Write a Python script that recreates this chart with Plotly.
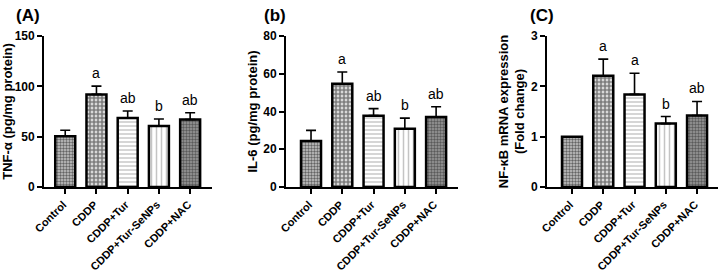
import plotly.graph_objects as go

groups = ["Control", "CDDP", "CDDP+Tur", "CDDP+Tur-SeNPs", "CDDP+NAC"]

tnf_mean = [50.4, 92.0, 68.5, 60.5, 67.0]
tnf_err = [6.0, 8.2, 7.0, 7.0, 6.7]
tnf_letters = ["", "a", "ab", "b", "ab"]

il6_mean = [24.4, 54.7, 37.8, 30.9, 37.1]
il6_err = [5.6, 6.2, 3.7, 5.6, 5.4]
il6_letters = ["", "a", "ab", "b", "ab"]

nfkb_mean = [1.0, 2.21, 1.84, 1.26, 1.42]
nfkb_err = [0.0, 0.33, 0.42, 0.14, 0.28]
nfkb_letters = ["", "a", "a", "b", "ab"]

panels = [
    dict(mean=tnf_mean, err=tnf_err, letters=tnf_letters, ymax=150, dtick=50,
         title="TNF-α (pg/mg protein)", label="(A)"),
    dict(mean=il6_mean, err=il6_err, letters=il6_letters, ymax=80, dtick=20,
         title="IL-6 (pg/mg protein)", label="(b)"),
    dict(mean=nfkb_mean, err=nfkb_err, letters=nfkb_letters, ymax=3, dtick=1,
         title="NF-κB mRNA expression<br>(Fold change)", label="(C)"),
]

patterns = [
    dict(shape=".", fgcolor="#000000", bgcolor="#c8c8c8", size=3, solidity=0.5),
    dict(shape=".", fgcolor="#000000", bgcolor="#ffffff", size=4, solidity=0.75),
    dict(shape="-", fgcolor="#8a8a8a", bgcolor="#ffffff", size=4, solidity=0.35),
    dict(shape="|", fgcolor="#8a8a8a", bgcolor="#ffffff", size=5, solidity=0.3),
    dict(shape=".", fgcolor="#1a1a1a", bgcolor="#9a9a9a", size=3, solidity=0.5),
]

W, H = 720, 271
xdoms = [(44 / W, 212 / W), (286 / W, 458 / W), (547 / W, 718 / W)]
xranges = [(-0.68, 4.7), (-0.8, 4.7), (-0.8, 4.67)]
ydom = ((H - 187) / H, (H - 36) / H)
label_x = [28, 275, 542]

FONT = "Arial, Liberation Sans, sans-serif"

fig = go.Figure()
annotations = []
for i, p in enumerate(panels):
    ax = "" if i == 0 else str(i + 1)
    for j, g in enumerate(groups):
        fig.add_trace(go.Bar(
            x=[g], y=[p["mean"][j]],
            xaxis="x" + ax, yaxis="y" + ax,
            width=0.64,
            marker=dict(color="white", pattern=patterns[j],
                        line=dict(color="black", width=2.5)),
            error_y=dict(type="data", symmetric=False, array=[p["err"][j]],
                         arrayminus=[0], color="black", thickness=1.6, width=5,
                         visible=p["err"][j] > 0),
            showlegend=False, hoverinfo="skip",
        ))
        if p["letters"][j]:
            annotations.append(dict(
                x=g, y=p["mean"][j] + p["err"][j], xref="x" + ax, yref="y" + ax,
                text=p["letters"][j], showarrow=False, yanchor="bottom", yshift=3,
                font=dict(family=FONT, size=14, color="black"),
            ))
    annotations.append(dict(
        x=label_x[i] / W, y=1 - 16 / H, xref="paper", yref="paper",
        text="<b>" + p["label"] + "</b>", showarrow=False,
        xanchor="center", yanchor="middle",
        font=dict(family=FONT, size=17, color="black"),
    ))
    xa = dict(domain=xdoms[i], anchor="y" + ax, range=xranges[i], automargin=False,
              showline=True, linecolor="black", linewidth=1.8,
              ticks="outside", ticklen=5, tickwidth=1.5, tickcolor="black",
              tickangle=-45, showgrid=False,
              ticklabelshift=-2, ticklabelstandoff=0,
              tickfont=dict(family=FONT, size=11, color="black", weight="bold"))
    ya = dict(domain=ydom, anchor="x" + ax, range=[0, p["ymax"]], dtick=p["dtick"],
              automargin=False,
              showline=True, linecolor="black", linewidth=1.8,
              ticks="outside", ticklen=5, tickwidth=1.5, tickcolor="black",
              showgrid=False, zeroline=False,
              tickfont=dict(family=FONT, size=12, color="black", weight="bold"),
              title=dict(text=p["title"], standoff=3,
                         font=dict(family=FONT, size=13, color="black", weight="bold")))
    fig.update_layout(**{"xaxis" + ax: xa, "yaxis" + ax: ya})

fig.update_layout(
    width=W, height=H,
    margin=dict(l=0, r=0, t=0, b=0, autoexpand=False),
    plot_bgcolor="white", paper_bgcolor="white",
    annotations=annotations,
    bargap=0.3,
)

fig.write_html("out.html", config={"displayModeBar": False},
               post_script="document.body.style.margin='0';")
